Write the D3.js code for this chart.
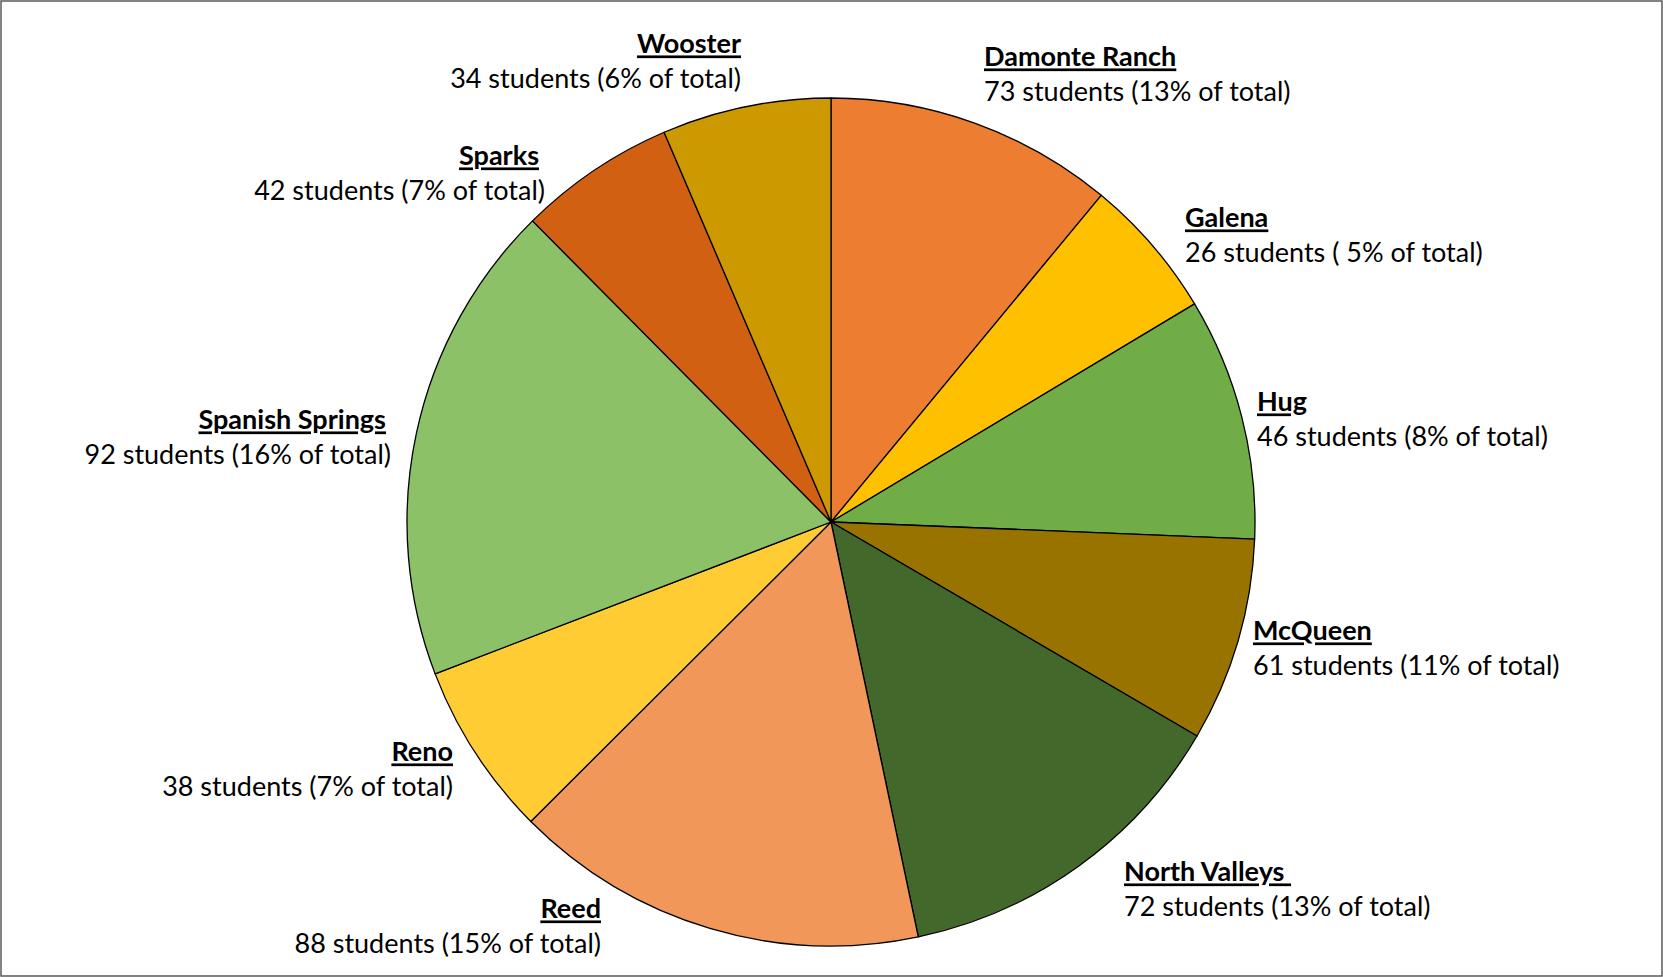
<!DOCTYPE html>
<html>
<head>
<meta charset="utf-8">
<script src="https://cdn.jsdelivr.net/npm/d3@7"></script>
<style>
  body { margin: 0; background: #fff; }
  svg { display: block; }
</style>
</head>
<body>
<div id="chart"></div>
<script>
// schools, clockwise from 12 o'clock
const schools = ["Damonte Ranch", "Galena", "Hug", "McQueen", "North Valleys\u00A0",
    "Reed", "Reno", "Spanish Springs", "Sparks", "Wooster"];
const students = [73, 26, 46, 61, 72, 88, 38, 92, 42, 34];
const pctText = ["13%", " 5%", "8%", "11%", "13%", "15%", "7%", "16%", "7%", "6%"];
// share of the circle each slice takes in the picture (percent)
const sliceShares = [11.0, 5.4, 9.24, 7.78, 13.28, 15.82, 6.65, 18.4, 5.99, 6.44];
const colors = ["#ED7D31", "#FFC000", "#70AD47", "#997300", "#43682B",
    "#F1975A", "#FFCD33", "#8CC168", "#D26012", "#CC9900"];

const chartWidth = 1663;
const chartHeight = 977;
const cx = 831, cy = 522, radius = 424;

// label anchors: [x title, x value, y of title line, text-anchor]
const labelLayout = [
    [984, 984, 57, "start"],
    [1185, 1185, 218, "start"],
    [1257, 1257, 402, "start"],
    [1253, 1253, 631, "start"],
    [1124, 1124, 872, "start"],
    [601, 601, 909, "end"],
    [453, 453, 752, "end"],
    [386, 391, 420, "end"],
    [539, 545, 156, "end"],
    [741, 741, 44, "end"]
];

var rows = [];
for (var i in schools) {
    rows.push({ name: schools[i], n: students[i], pct: pctText[i],
        share: sliceShares[i], color: colors[i], lay: labelLayout[i] });
}

var svg = d3.select("#chart").append("svg")
    .attr("width", chartWidth).attr("height", chartHeight);

svg.append("rect")
    .attr("x", 1).attr("y", 1)
    .attr("width", chartWidth - 2).attr("height", chartHeight - 2)
    .attr("fill", "#fff")
    .attr("stroke", "#595959")
    .attr("stroke-width", 1.5);

var pie = d3.pie().sort(null).value(function(d) { return d.share; });
var arc = d3.arc().innerRadius(0).outerRadius(radius);

var g = svg.append("g").attr("transform", "translate(" + cx + "," + cy + ")");
g.selectAll("path")
    .data(pie(rows))
    .enter()
    .append("path")
    .attr("d", arc)
    .attr("fill", function(d) { return d.data.color; })
    .attr("stroke", "#000")
    .attr("stroke-width", 1.3)
    .attr("stroke-linejoin", "round");

var labels = svg.selectAll("g.label")
    .data(rows)
    .enter()
    .append("g")
    .attr("class", "label")
    .style("font-family", "Lato, 'Open Sans', sans-serif")
    .style("font-size", "27px")
    .style("white-space", "pre")
    .attr("fill", "#000");

labels.append("text")
    .attr("x", function(d) { return d.lay[0]; })
    .attr("y", function(d) { return d.lay[2]; })
    .attr("dy", "0.35em")
    .attr("text-anchor", function(d) { return d.lay[3]; })
    .style("font-weight", "bold")
    .style("text-decoration", "underline")
    .text(function(d) { return d.name; });

labels.append("text")
    .attr("x", function(d) { return d.lay[1]; })
    .attr("y", function(d) { return d.lay[2] + 35; })
    .attr("dy", "0.35em")
    .attr("text-anchor", function(d) { return d.lay[3]; })
    .text(function(d) { return d.n + " students (" + d.pct + " of total)"; });
</script>
</body>
</html>
